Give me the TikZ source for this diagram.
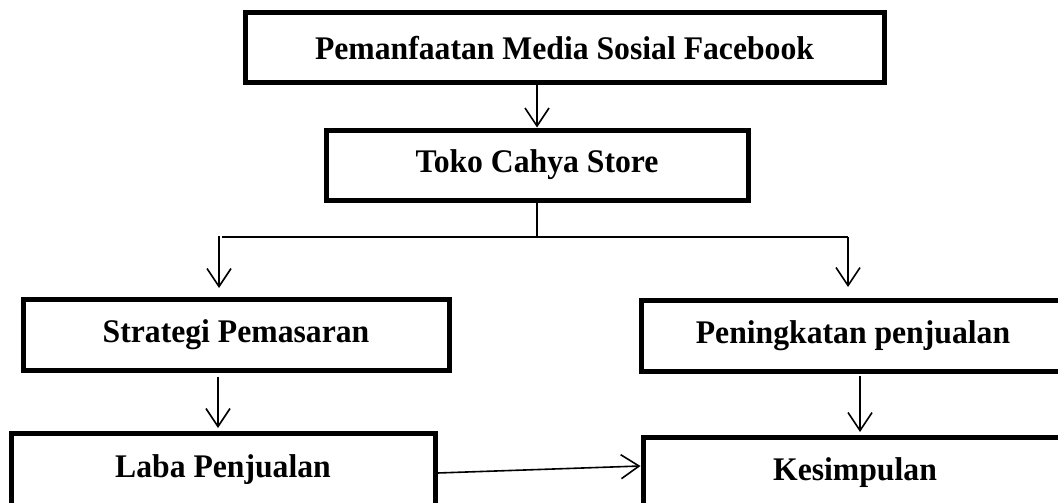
\documentclass[tikz,border=0pt]{standalone}
\usepackage{fontspec}
\usepackage{graphicx}
\setmainfont{Liberation Serif}
\usetikzlibrary{arrows.meta}
\newcommand{\sqz}[1]{\scalebox{0.96}[1]{#1}}
\begin{document}
\begin{tikzpicture}[x=1pt,y=-1pt,
  box/.style={draw=black,line width=5pt,inner sep=0pt,align=center,
    font=\bfseries\fontsize{33}{38}\selectfont},
  conn/.style={line width=1.6pt},
  arr/.style={line width=1.6pt,-{Straight Barb[length=18pt,width=24pt]}}]
\useasboundingbox (0,0) rectangle (1058,503);
\clip (0,0) rectangle (1058,503);
\node[box,minimum width=639pt,minimum height=70pt] (b1) at (564.5,48) {\sqz{Pemanfaatan Media Sosial Facebook}};
\node[box,minimum width=422pt,minimum height=70pt] (b2) at (537,165) {\sqz{Toko Cahya Store}};
\node[box,minimum width=426pt,minimum height=71pt] (b3) at (236,334.5) {\sqz{Strategi Pemasaran}};
\node[box,minimum width=424pt,minimum height=71pt] (b4) at (853,335.5) {\sqz{Peningkatan penjualan}};
\node[box,minimum width=424pt,text height=44.5pt,text depth=35.5pt] (b5) at (223,473) {\sqz{Laba Penjualan}};
\node[box,minimum width=424pt,text height=43.5pt,text depth=31.5pt] (b6) at (855,474.5) {\sqz{Kesimpulan}};
\coordinate (hl) at (222,237);
\coordinate (hr) at (848,237);
\coordinate (ld) at (219,236);
\coordinate (lt) at (219,288);
\coordinate (rt) at (848,287);
\draw[arr] (b1.south -| b2.north) -- (b2.north);
\draw[conn] (b2.south) -- (b2.south |- hl);
\draw[conn] (hl) -- (hr);
\draw[arr] (ld) -- (lt);
\draw[arr] (hr) -- (rt);
\draw[arr] ([xshift=-18pt,yshift=-4pt]b3.south) -- ([xshift=-5pt,yshift=2.5pt]b5.north);
\draw[arr] ([xshift=7pt,yshift=-2pt]b4.south) -- ([xshift=5pt,yshift=2.5pt]b6.north);
\draw[arr] (b5.east) -- ([yshift=8.5pt]b6.west);
\end{tikzpicture}
\end{document}
